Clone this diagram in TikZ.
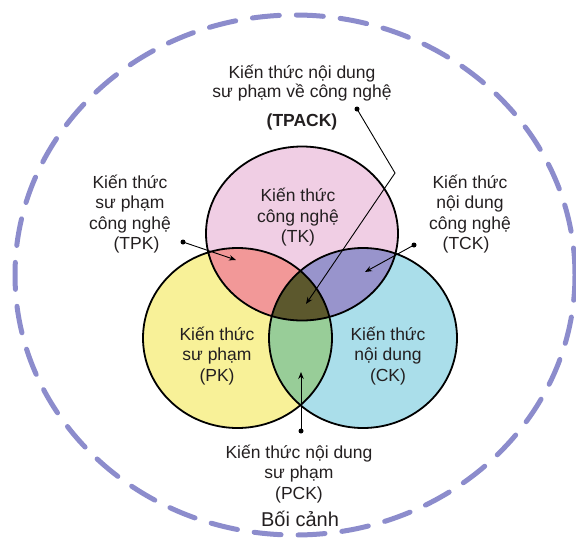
\documentclass[tikz,border=0pt]{standalone}
\usepackage{fontspec}
\setmainfont{Liberation Sans}
\usetikzlibrary{arrows.meta}
\definecolor{cTK}{RGB}{240,206,228}
\definecolor{cPK}{RGB}{248,241,152}
\definecolor{cCK}{RGB}{170,222,234}
\definecolor{cTP}{RGB}{242,152,152}
\definecolor{cTC}{RGB}{152,148,204}
\definecolor{cPC}{RGB}{152,205,152}
\definecolor{cAll}{RGB}{92,88,45}
\definecolor{cOuter}{RGB}{140,140,204}
\definecolor{txt}{RGB}{35,31,32}
\def\pathTK{(302,233.5) ellipse [x radius=96pt, y radius=87pt]}
\def\pathPK{(237.5,338) ellipse [x radius=94.5pt, y radius=90pt]}
\def\pathCK{(363,338) ellipse [x radius=94pt, y radius=90pt]}
\begin{document}
\begin{tikzpicture}[x=1pt,y=-1pt,
  lbl/.style={align=center, font=\fontsize{17.5}{20.5}\selectfont, text=txt, inner sep=0pt},
  ring/.style={draw=black, line width=1.8pt},
  leader/.style={draw=black, line width=0.9pt, -{Stealth[length=7pt,width=5.5pt]}},
  dotmark/.style={fill=black, circle, inner sep=0pt, minimum size=5pt},
  outer/.style={draw=cOuter, line width=5pt, line cap=round, dash pattern=on 27pt off 17pt}]
\useasboundingbox (0,0) rectangle (576,541);
% outer context
\draw[outer] (295,275) ellipse [x radius=280pt, y radius=260pt];
% region fills
\fill[cPK] \pathPK;
\fill[cCK] \pathCK;
\fill[cTK] \pathTK;
\begin{scope}
  \clip \pathTK;
  \fill[cTP] \pathPK;
  \fill[cTC] \pathCK;
\end{scope}
\begin{scope}
  \clip \pathPK;
  \fill[cPC] \pathCK;
\end{scope}
\begin{scope}
  \clip \pathPK;
  \clip \pathTK;
  \fill[cAll] \pathCK;
\end{scope}
% outlines
\draw[ring] \pathTK;
\draw[ring] \pathPK;
\draw[ring] \pathCK;
% main labels
\node[lbl] (TK) at (298,217.5) {Kiến thức\\công nghệ\\(TK)};
\node[lbl] (PK) at (217,356) {Kiến thức\\sư phạm\\(PK)};
\node[lbl] (CK) at (388,356) {Kiến thức\\nội dung\\(CK)};
% outside labels
\node[lbl] (TPACK) at (302,97.5) {Kiến thức nội dung\\[-1.5pt]sư phạm về công nghệ\\[9pt]\textbf{(TPACK)}};
\node[lbl] (TPK) at (130,214) {Kiến thức\\sư phạm\\công nghệ\\\hspace*{13pt}(TPK)};
\node[lbl] (TCK) at (470,214) {Kiến thức\\nội dung\\công nghệ\\(TCK)\hspace*{8pt}};
\node[lbl] (PCK) at (299,474) {Kiến thức nội dung\\sư phạm\\(PCK)};
\node[lbl, font=\fontsize{20}{22}\selectfont] (ctx) at (300,519) {Bối cảnh};
% leaders
\node[dotmark] (dTPACK) at (357,109) {};
\coordinate (bTPACK) at (395,173);
\coordinate (tTPACK) at (306,304);
\draw[leader] (dTPACK.center) -- (bTPACK) -- (tTPACK);
\node[dotmark] (dTPK) at (183,242) {};
\coordinate (tTPK) at (236,260);
\draw[leader] (dTPK.center) -- (tTPK);
\node[dotmark] (dTCK) at (414,245) {};
\coordinate (tTCK) at (365,272);
\draw[leader] (dTCK.center) -- (tTCK);
\node[dotmark] (dPCK) at (301,431) {};
\coordinate (tPCK) at (301,372);
\draw[leader] (dPCK.center) -- (tPCK);
\end{tikzpicture}
\end{document}
